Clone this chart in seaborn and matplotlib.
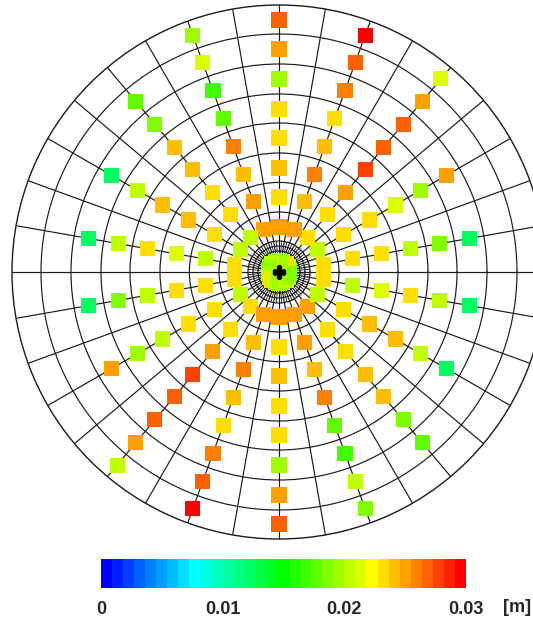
import numpy as np
import pandas as pd
import matplotlib
matplotlib.use("Agg")
import matplotlib.pyplot as plt
import seaborn as sns
from matplotlib.colors import LinearSegmentedColormap, Normalize
from matplotlib.cm import ScalarMappable

sns.set_style("white")
plt.rcParams["font.family"] = ["Liberation Sans", "DejaVu Sans"]

nan = np.nan

# probe rays (deg, counter-clockwise from east) and probe radii (plot units)
ray_angles = [10, 30, 50, 70, 90, 110, 130, 150, 170,
              190, 210, 230, 250, 270, 290, 310, 330, 350]
probe_radii = [45, 75, 104, 134, 163, 193, 223, 252]
core_radius = 11

# displacement [m] per ring, one value per ray (same order as ray_angles)
disp_r45 = [0.0232, 0.0205, 0.0232, 0.0250, 0.0250, 0.0250, 0.0205, 0.0205, 0.0232,
            0.0232, 0.0205, 0.0232, 0.0250, 0.0250, 0.0250, 0.0250, 0.0205, 0.0232]
disp_r75 = [0.0232, 0.0232, 0.0232, 0.0241, 0.0232, 0.0250, 0.0232, 0.0232, 0.0205,
            0.0232, 0.0232, 0.0232, 0.0241, 0.0232, 0.0250, 0.0232, 0.0232, 0.0205]
disp_r104 = [0.0232, 0.0232, 0.0250, 0.0259, 0.0241, 0.0241, 0.0232, 0.0241, 0.0214,
             0.0232, 0.0232, 0.0250, 0.0259, 0.0241, 0.0241, 0.0232, 0.0241, 0.0214]
disp_r134 = [0.0205, 0.0214, 0.0277, 0.0241, 0.0232, 0.0259, 0.0241, 0.0241, 0.0232,
             0.0205, 0.0205, 0.0277, 0.0241, 0.0232, 0.0259, 0.0241, 0.0241, 0.0232]
disp_r163 = [0.0186, 0.0195, 0.0268, 0.0232, 0.0232, 0.0177, 0.0241, 0.0205, 0.0205,
             0.0186, 0.0195, 0.0268, 0.0232, 0.0232, 0.0177, 0.0241, 0.0205, 0.0205]
disp_r193 = [0.0123, 0.0250, 0.0268, 0.0259, 0.0195, 0.0168, 0.0186, 0.0123, 0.0123,
             0.0123, 0.0250, 0.0268, 0.0259, 0.0195, 0.0168, 0.0186, 0.0123, 0.0123]
disp_r223 = [nan, nan, 0.0250, 0.0268, 0.0250, 0.0214, 0.0177, nan, nan,
             nan, nan, 0.0250, 0.0268, 0.0250, 0.0205, 0.0177, nan, nan]
disp_r252 = [nan, nan, 0.0214, 0.0295, 0.0268, 0.0195, nan, nan, nan,
             nan, nan, 0.0205, 0.0295, 0.0268, 0.0186, nan, nan, nan]
disp_core = [0.0195, 0.0205, 0.0232, 0.0205, 0.0195, 0.0195, 0.0205, 0.0195, 0.0186,
             0.0195, 0.0205, 0.0232, 0.0205, 0.0195, 0.0195, 0.0205, 0.0195, 0.0186]
disp_centre = 0.0195

mesh_rings = [21, 26, 31, 47, 60, 89.6, 119, 149, 178, 208, 238]
outer_radius = 267
cbar_ticks = [0, 0.01, 0.02, 0.03]
cbar_labels = ["0", "0.01", "0.02", "0.03"]

# long table of probes
rows = []
for r, vals in zip(probe_radii, [disp_r45, disp_r75, disp_r104, disp_r134,
                                 disp_r163, disp_r193, disp_r223, disp_r252]):
    for a, v in zip(ray_angles, vals):
        rows.append((np.deg2rad(a), r, v))
for a, v in zip(ray_angles, disp_core):
    rows.append((np.deg2rad(a), core_radius, v))
rows.append((0.0, 0, disp_centre))
df = pd.DataFrame(rows, columns=["theta", "r", "disp"]).dropna()

cmap = LinearSegmentedColormap.from_list(
    "fluent", ["#0000ff", "#00ffff", "#00ff00", "#ffff00", "#ff0000"], N=33)
norm = Normalize(vmin=0, vmax=0.03)

fig = plt.figure(figsize=(5.33, 6.18), dpi=100)
ax = fig.add_axes([12/533, 79/618, 534/533, 534/618], projection="polar")
ax.set_axisbelow(True)

# mesh
ax.set_xticks(np.deg2rad(np.arange(0, 360, 10)))
ax.set_xticklabels([])
ax.set_yticks(mesh_rings)
ax.set_yticklabels([])
ax.grid(True, color="#1a1a1a", linewidth=0.85)
for a in np.arange(5, 360, 10):
    ax.plot([np.deg2rad(a)] * 2, [19, 31], color="#1a1a1a", lw=0.6, zorder=0.6)
ax.spines["polar"].set_color("#1a1a1a")
ax.spines["polar"].set_linewidth(1.0)

sns.scatterplot(data=df, x="theta", y="r", hue="disp", palette=cmap, hue_norm=norm,
                marker="s", s=117, linewidth=0, legend=False, ax=ax, zorder=3)
ax.plot([0], [0], marker="P", color="black", ms=8, zorder=4)
ax.set_ylim(0, outer_radius)
ax.set_xlabel("")
ax.set_ylabel("")

# colour bar
cax = fig.add_axes([101/533, 30/618, 365/533, 29/618])
cb = fig.colorbar(ScalarMappable(norm=norm, cmap=cmap), cax=cax,
                  orientation="horizontal", ticks=cbar_ticks)
cb.outline.set_visible(False)
cb.ax.set_xticklabels(cbar_labels, fontsize=13, fontweight="bold")
cb.ax.tick_params(length=0, pad=9)
fig.text(503/533, 11/618, "[m]", fontsize=13, fontweight="bold", ha="left", va="center")

fig.savefig("out.png", dpi=100, facecolor="white")
